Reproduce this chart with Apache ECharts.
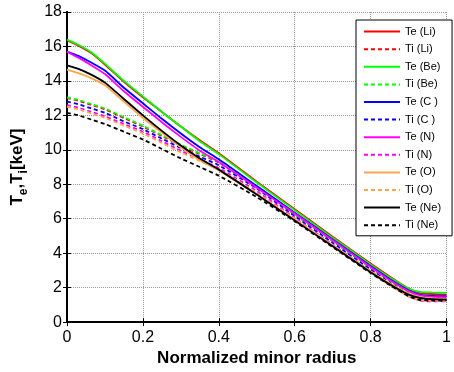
<!DOCTYPE html>
<html>
<head>
<meta charset="utf-8">
<script src="https://cdn.jsdelivr.net/npm/echarts@6/dist/echarts.min.js"></script>
<style>
  html, body { margin: 0; padding: 0; background: #fff; }
  #chart { width: 454px; height: 372px; }
</style>
</head>
<body>
<div id="chart"></div>
<script>
// normalized minor radius sample points
const radius = [0, 0.03, 0.065, 0.1, 0.15, 0.2, 0.25, 0.3, 0.35, 0.4, 0.5, 0.6, 0.7, 0.8, 0.85, 0.9, 0.93, 0.96, 1.0]

// electron / ion temperatures [keV]
const teLi = [16.35, 16.05, 15.6, 14.95, 13.95, 13.05, 12.2, 11.35, 10.55, 9.8, 8.15, 6.55, 4.95, 3.4, 2.65, 1.95, 1.7, 1.63, 1.6]
const tiLi = [13.0, 12.85, 12.6, 12.35, 11.85, 11.35, 10.8, 10.25, 9.75, 9.25, 7.85, 6.25, 4.7, 3.15, 2.4, 1.7, 1.4, 1.33, 1.3]
const teBe = [16.4, 16.1, 15.65, 15.0, 14.0, 13.1, 12.2, 11.35, 10.5, 9.75, 8.1, 6.5, 4.9, 3.35, 2.6, 1.95, 1.75, 1.72, 1.7]
const tiBe = [13.05, 12.9, 12.65, 12.4, 11.9, 11.4, 10.85, 10.3, 9.8, 9.3, 7.9, 6.25, 4.7, 3.15, 2.4, 1.7, 1.4, 1.33, 1.3]
const teC = [15.7, 15.45, 15.05, 14.6, 13.6, 12.7, 11.8, 10.95, 10.15, 9.45, 7.9, 6.35, 4.8, 3.25, 2.5, 1.85, 1.6, 1.52, 1.5]
const tiC = [12.8, 12.65, 12.4, 12.15, 11.65, 11.2, 10.65, 10.1, 9.6, 9.1, 7.75, 6.15, 4.6, 3.05, 2.3, 1.6, 1.33, 1.27, 1.25]
const teN = [15.7, 15.35, 14.9, 14.4, 13.4, 12.5, 11.6, 10.75, 9.95, 9.3, 7.8, 6.3, 4.75, 3.2, 2.45, 1.8, 1.55, 1.47, 1.45]
const tiN = [12.6, 12.45, 12.2, 11.95, 11.5, 11.05, 10.5, 9.95, 9.45, 8.95, 7.6, 6.05, 4.5, 2.95, 2.2, 1.5, 1.25, 1.2, 1.2]
const teO = [14.65, 14.45, 14.15, 13.75, 12.8, 11.85, 11.0, 10.15, 9.4, 8.8, 7.4, 5.95, 4.45, 2.95, 2.25, 1.65, 1.45, 1.38, 1.35]
const tiO = [12.5, 12.35, 12.1, 11.85, 11.4, 10.95, 10.4, 9.85, 9.35, 8.85, 7.5, 6.0, 4.45, 2.9, 2.15, 1.5, 1.28, 1.25, 1.25]
const teNe = [14.9, 14.7, 14.35, 13.9, 12.95, 12.0, 11.1, 10.25, 9.5, 8.85, 7.4, 5.9, 4.4, 2.9, 2.2, 1.6, 1.4, 1.33, 1.3]
const tiNe = [12.15, 12.0, 11.75, 11.5, 11.05, 10.6, 10.05, 9.5, 9.0, 8.5, 7.25, 5.85, 4.35, 2.85, 2.15, 1.5, 1.28, 1.25, 1.25]

const xTicks = [0, 0.2, 0.4, 0.6, 0.8, 1]

const curves = [
  { name: 'Te (Li)', data: teLi, color: '#ff0000', dash: false },
  { name: 'Ti (Li)', data: tiLi, color: '#ff0000', dash: true },
  { name: 'Te (Be)', data: teBe, color: '#00ff00', dash: false },
  { name: 'Ti (Be)', data: tiBe, color: '#00ff00', dash: true },
  { name: 'Te (C )', data: teC, color: '#0000ff', dash: false },
  { name: 'Ti (C )', data: tiC, color: '#0000ff', dash: true },
  { name: 'Te (N)', data: teN, color: '#ff00ff', dash: false },
  { name: 'Ti (N)', data: tiN, color: '#ff00ff', dash: true },
  { name: 'Te (O)', data: teO, color: '#ffa64d', dash: false },
  { name: 'Ti (O)', data: tiO, color: '#ffa64d', dash: true },
  { name: 'Te (Ne)', data: teNe, color: '#000000', dash: false },
  { name: 'Ti (Ne)', data: tiNe, color: '#000000', dash: true }
]

const font = 'Liberation Sans, Arial, sans-serif'
const chart = echarts.init(document.getElementById('chart'), null, { renderer: 'canvas' })

const frameAxis = {
  axisLine: { show: true, lineStyle: { color: '#000', width: 2 } },
  axisTick: { show: true, inside: true, length: 4, lineStyle: { color: '#000' } },
  axisLabel: { show: false },
  splitLine: { show: false }
}

const option = {
  backgroundColor: '#fff',
  animation: false,
  grid: { left: 67, right: 1, top: 12, bottom: 45 },
  legend: {
    orient: 'vertical',
    left: 356,
    top: 20,
    padding: [6, 11, 5, 7],
    itemWidth: 36,
    itemHeight: 14,
    itemGap: 6.4,
    itemStyle: { opacity: 0 },
    backgroundColor: '#fff',
    borderColor: '#000',
    borderWidth: 1,
    borderRadius: 0,
    textStyle: { fontFamily: font, fontSize: 11, color: '#000' },
    data: curves.map(c => c.name)
  },
  xAxis: [
    {
      type: 'value',
      min: 0,
      max: 1,
      interval: 0.2,
      name: 'Normalized minor radius',
      nameLocation: 'middle',
      nameGap: 25,
      nameTextStyle: { fontFamily: font, fontSize: 17, fontWeight: 'bold', color: '#000' },
      axisLine: { show: true, lineStyle: { color: '#000', width: 2 } },
      axisTick: { show: true, inside: true, length: 4, lineStyle: { color: '#000' } },
      axisLabel: {
        fontFamily: font, fontSize: 16, color: '#000', margin: 7,
        formatter: v => (xTicks.includes(Math.round(v * 10) / 10) ? String(Math.round(v * 10) / 10) : '')
      },
      splitLine: { show: true, lineStyle: { color: '#999', type: 'dotted', width: 1 } }
    },
    Object.assign({ type: 'value', position: 'top', min: 0, max: 1, interval: 0.2 }, frameAxis)
  ],
  yAxis: [
    {
      type: 'value',
      min: 0,
      max: 18,
      interval: 2,
      name: '{a|T}{b|e}{a|,T}{b|i}{a|[keV]}',
      nameLocation: 'middle',
      nameGap: 40,
      nameTextStyle: {
        color: '#000',
        rich: {
          a: { fontFamily: font, fontSize: 17, fontWeight: 'bold', color: '#000', lineHeight: 18, verticalAlign: 'top' },
          b: { fontFamily: font, fontSize: 12, fontWeight: 'bold', color: '#000', lineHeight: 12, padding: [9, 0, 0, 0], verticalAlign: 'top' }
        }
      },
      axisLine: { show: true, lineStyle: { color: '#000', width: 2 } },
      axisTick: { show: true, inside: true, length: 4, lineStyle: { color: '#000' } },
      axisLabel: { fontFamily: font, fontSize: 16, color: '#000', margin: 5 },
      splitLine: { show: true, lineStyle: { color: '#999', type: 'dotted', width: 1 } }
    },
    Object.assign({ type: 'value', position: 'right', min: 0, max: 18, interval: 2 }, frameAxis)
  ],
  series: curves.map(c => ({
    name: c.name,
    type: 'line',
    symbol: 'none',
    smooth: 0.2,
    color: c.color,
    lineStyle: { color: c.color, width: 1.8, type: c.dash ? [4, 3] : 'solid' },
    data: radius.map((r, i) => [r, c.data[i]])
  }))
}

chart.setOption(option)
</script>
</body>
</html>
